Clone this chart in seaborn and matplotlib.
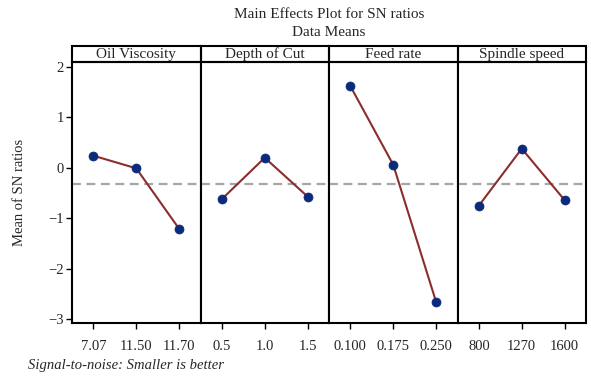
import matplotlib
matplotlib.use("Agg")
import matplotlib.pyplot as plt
import seaborn as sns
import pandas as pd
from matplotlib.patches import Rectangle

# ---- data ----
factors = ["Oil Viscosity", "Depth of Cut", "Feed rate", "Spindle speed"]
oil_levels = ["7.07", "11.50", "11.70"]
oil_sn = [0.24, -0.01, -1.21]
depth_levels = ["0.5", "1.0", "1.5"]
depth_sn = [-0.62, 0.20, -0.57]
feed_levels = ["0.100", "0.175", "0.250"]
feed_sn = [1.62, 0.06, -2.66]
spindle_levels = ["800", "1270", "1600"]
spindle_sn = [-0.75, 0.38, -0.64]
y_ticks = [-3, -2, -1, 0, 1, 2]

levels_all = [oil_levels, depth_levels, feed_levels, spindle_levels]
sn_all = [oil_sn, depth_sn, feed_sn, spindle_sn]
rows = []
for f, lv, sn in zip(factors, levels_all, sn_all):
    for l, v in zip(lv, sn):
        rows.append({"factor": f, "level": l, "sn": v})
df = pd.DataFrame(rows)
grand_mean = df.groupby("factor")["sn"].mean().mean()

sns.set_theme(style="white")
plt.rcParams["font.family"] = ["Liberation Serif", "DejaVu Serif"]

W, H = 591, 379
fig = plt.figure(figsize=(W / 100, H / 100), dpi=100)
left, right = 72 / W, 586 / W
bottom, top = 1 - 323 / H, 1 - 62 / H
fig.subplots_adjust(left=left, right=right, bottom=bottom, top=top, wspace=0)
axes = fig.subplots(1, 4, sharey=True)

line_color = "#8b2d2d"
marker_color = "#0c2a7c"
strip_h = 16 / (323 - 62)

for i, (ax, f) in enumerate(zip(axes, factors)):
    sub = df[df["factor"] == f]
    sns.scatterplot(data=sub, x="level", y="sn", ax=ax, color=marker_color,
                    s=42, edgecolor=marker_color, zorder=4, legend=False)
    sns.lineplot(data=sub, x="level", y="sn", ax=ax, sort=False,
                 color=line_color, lw=1.5, zorder=3, legend=False)
    ax.axhline(grand_mean, color="#a6a6a6", ls=(0, (4, 2.5)), lw=1.6, zorder=1)
    ax.set_xlim(-0.5, 2.5)
    ax.set_ylim(-3.08, 2.1)
    ax.set_xlabel("")
    ax.set_ylabel("")
    for s in ax.spines.values():
        s.set_color("black")
        s.set_linewidth(1.5)
    ax.tick_params(axis="x", bottom=True, direction="out", length=4, width=1,
                   color="black", labelsize=10.5, pad=8)
    if i == 0:
        ax.tick_params(axis="y", left=True, direction="out", length=4, width=1,
                       color="black", labelsize=10.5, pad=2)
    else:
        ax.tick_params(axis="y", left=False)
    rect = Rectangle((0, 1), 1, strip_h, transform=ax.transAxes, fill=False,
                     edgecolor="black", lw=1.5, clip_on=False)
    ax.add_patch(rect)
    ax.text(0.5, 1 + strip_h / 2 - 0.002, f, transform=ax.transAxes, ha="center",
            va="center", fontsize=11)

axes[0].set_yticks(y_ticks)
axes[0].set_yticklabels([str(t).replace("-", "\u2212") for t in y_ticks])

fig.text((left + right) / 2, 1 - 15 / H, "Main Effects Plot for SN ratios",
         ha="center", va="center", fontsize=11)
fig.text((left + right) / 2, 1 - 32 / H, "Data Means",
         ha="center", va="center", fontsize=11)
fig.text(20 / W, 1 - 192 / H, "Mean of SN ratios", rotation=90,
         ha="center", va="center", fontsize=10.5)
fig.text(28 / W, 1 - 365 / H, "Signal-to-noise: Smaller is better",
         ha="left", va="center", fontsize=10.5, style="italic")

fig.savefig("out.png", dpi=100)
